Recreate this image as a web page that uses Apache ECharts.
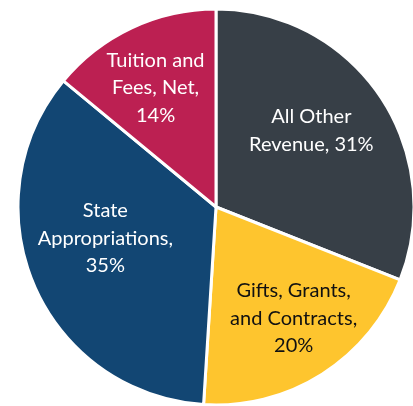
<!DOCTYPE html>
<html><head><meta charset="utf-8">
<script src="https://cdn.jsdelivr.net/npm/echarts@6/dist/echarts.min.js"></script>
<style>html,body{margin:0;padding:0;background:#fff}#c{width:413px;height:406px}</style>
</head><body><div id="c"></div>
<script>
const categories = ["All Other\nRevenue, 31%", "Gifts, Grants,\nand Contracts,\n20%", "State\nAppropriations,\n35%", "Tuition and\nFees, Net,\n14%"];
const values = [31, 20, 35, 14];
const colors = ["#373f47", "#fec52e", "#124673", "#bc2052"];
const labelColors = ["#ffffff", "#111111", "#ffffff", "#ffffff"];
const labelShift = [[11, -19], [23, 25], [-17, -9], [-17, -27]];

const chart = echarts.init(document.getElementById('c'), null, {renderer: 'canvas'});
chart.setOption({
  animation: false,
  series: [{
    type: 'pie',
    center: [216, 207],
    radius: [0, 198],
    startAngle: 90,
    clockwise: true,
    data: categories.map((n, i) => ({
      name: n, value: values[i],
      itemStyle: {color: colors[i]},
      label: {color: labelColors[i]}
    })),
    itemStyle: {borderColor: '#ffffff', borderWidth: 3},
    label: {
      show: true, position: 'inside', formatter: '{b}',
      fontFamily: 'Lato', fontSize: 20, lineHeight: 27.5, align: 'center'
    },
    labelLine: {show: false},
    labelLayout: function (p) { return {dx: labelShift[p.dataIndex][0], dy: labelShift[p.dataIndex][1]}; },
    emphasis: {disabled: true}
  }]
});
</script>
</body></html>
